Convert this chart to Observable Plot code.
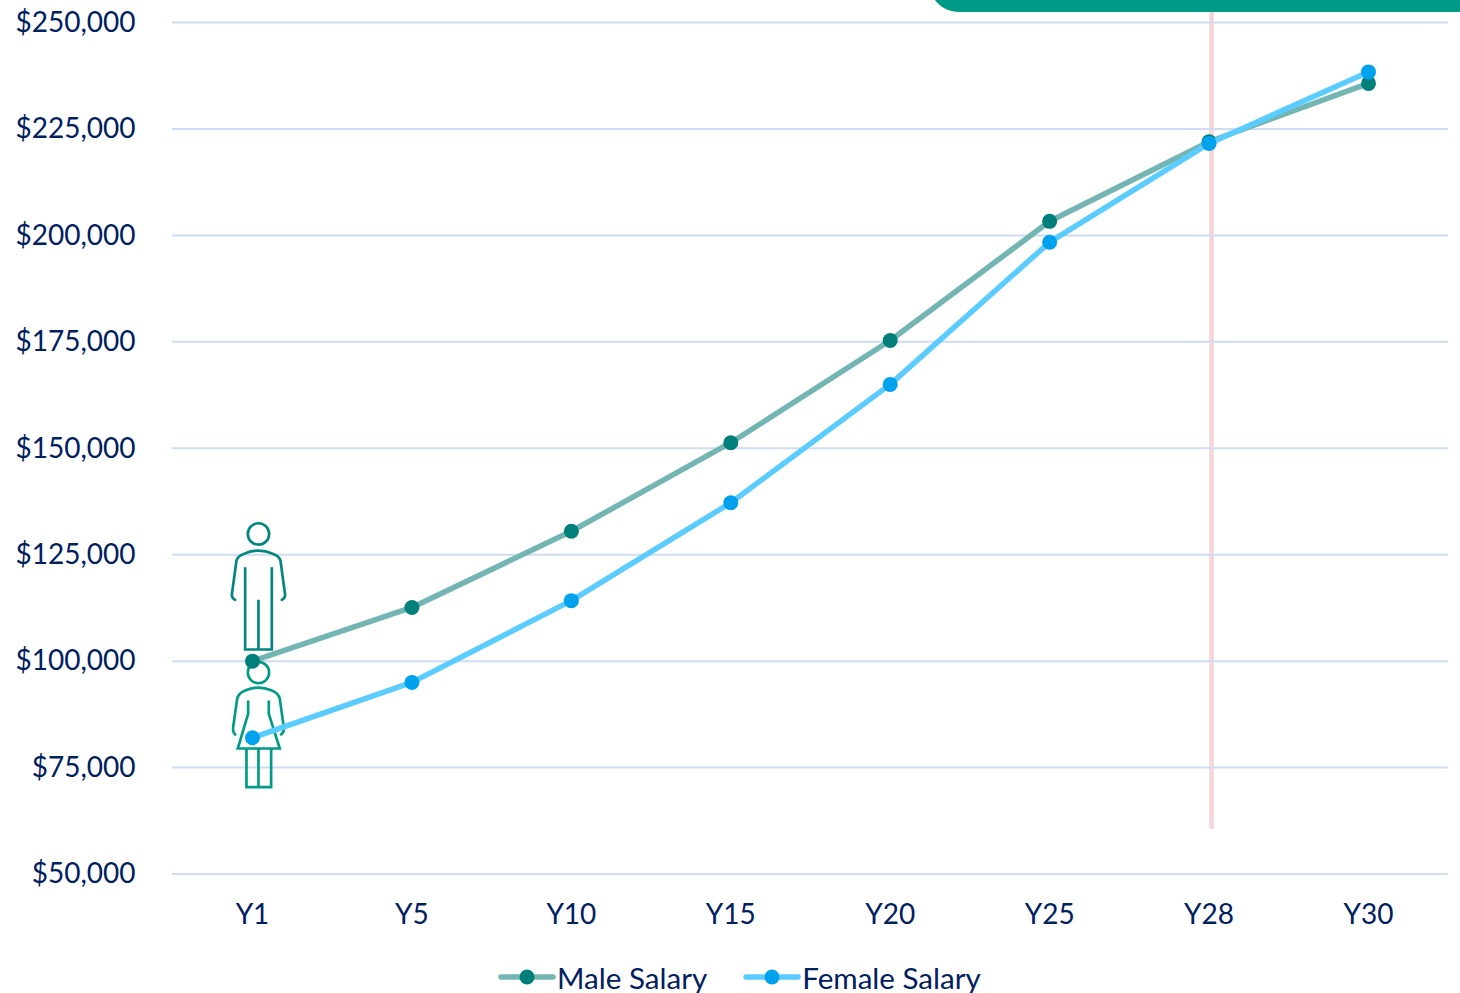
<!DOCTYPE html>
<html>
<head>
<meta charset="utf-8">
<script src="https://cdn.jsdelivr.net/npm/d3@7"></script>
<script src="https://cdn.jsdelivr.net/npm/@observablehq/plot@0.6"></script>
<style>
html,body{margin:0;padding:0;background:#fff;overflow:hidden}
#wrap{position:relative;width:1460px;height:993px;font-family:Lato,sans-serif}
#banner{position:absolute;left:930px;top:-30px;width:530px;height:42px;background:#009b86;border-bottom-left-radius:28px}
#chart{position:absolute;left:0;top:0}
#legend{position:absolute;left:498px;top:958px;height:38px;display:flex;align-items:center;font-size:29.6px;color:#002060;white-space:nowrap}
#legend svg{display:block}
.item{display:flex;align-items:center}
</style>
</head>
<body>
<div id="wrap"><div id="chart"></div><div id="banner"></div><div id="legend"></div></div>
<script>
const years = ["Y1","Y5","Y10","Y15","Y20","Y25","Y28","Y30"];
const maleSalary = [100000,112600,130500,151300,175300,203300,222000,235700];
const femaleSalary = [82000,95000,114200,137200,165000,198400,221600,238400];
const yTicks = [50000,75000,100000,125000,150000,175000,200000,225000,250000];
const seriesNames = ["Male Salary","Female Salary"];
const lineColors = ["#72b5b3","#5accff"];
const dotColors = ["#007f7b","#00a2ed"];

const rows = (vals) => years.map((year,i)=>({year,value:vals[i]}));
const male = rows(maleSalary), female = rows(femaleSalary);

const icon = (vb, color, body) => "data:image/svg+xml," + encodeURIComponent(
  `<svg xmlns="http://www.w3.org/2000/svg" viewBox="${vb}" width="190" height="400"><g fill="none" stroke="${color}" stroke-width="8" stroke-linecap="round">${body}</g></svg>`);
const maleIcon = icon("80 30 190 400","#00857f",
  `<circle cx="174" cy="70" r="32"/><path d="M104,268 Q94,264 94,252 L108,150 Q112,136 130,130 Q174,110 218,130 Q236,136 240,150 L254,252 Q254,264 244,268"/><path stroke-linecap="butt" d="M134,170 V417 H214 V170 M174,268 V417"/>`);
const femaleIcon = icon("80 450 190 400","#009b86",
  `<circle cx="174" cy="486" r="32"/><path d="M104,672 Q96,664 98,650 L110,565 Q114,548 134,540 Q174,522 214,540 Q234,548 238,565 L250,650 Q252,664 242,672"/><path stroke-linecap="butt" d="M143,570 V610 L112,714 H238 L205,610 V570"/><path stroke-linecap="butt" d="M138,714 V830 H212 V714 M174,714 V830"/>`);
const icons = [
  {year:"Y1",value:117360,src:maleIcon},
  {year:"Y1",value:84480,src:femaleIcon}
];

const chart = Plot.plot({
  width:1460,height:945,
  marginLeft:172,marginRight:12,marginTop:22,marginBottom:71.5,
  style:{fontFamily:"Lato, sans-serif",fontSize:"28px",color:"#002060",background:"transparent",overflow:"visible"},
  x:{type:"point",domain:years,range:[252,1368],padding:0,round:false,label:null},
  y:{domain:[50000,250000],range:[873.5,22],label:null},
  marks:[
    Plot.ruleX(["Y28"],{y1:60500,y2:253000,dx:2.5,stroke:"#f6d5d8",strokeWidth:4.5}),
    Plot.ruleY(yTicks,{stroke:"#d0dcf2",strokeWidth:2}),
    Plot.axisY({ticks:yTicks,tickSize:0,tickPadding:37,dy:0.3,tickFormat:d3.format("$,.0f"),label:null,fontSize:28,fill:"#002060"}),
    Plot.axisX({tickSize:0,tickPadding:30,label:null,fontSize:28,fill:"#002060"}),
    Plot.image(icons,{x:"year",y:"value",src:"src",width:63.3,height:133.3,dx:6.3}),
    Plot.line(male,{x:"year",y:"value",stroke:lineColors[0],strokeWidth:5.5,curve:"linear"}),
    Plot.dot(male,{x:"year",y:"value",r:7.5,fill:dotColors[0]}),
    Plot.line(female,{x:"year",y:"value",stroke:lineColors[1],strokeWidth:5.5,curve:"linear"}),
    Plot.dot(female,{x:"year",y:"value",r:7.5,fill:dotColors[1]})
  ]
});
document.getElementById("chart").append(chart);

const legend = d3.select("#legend");
seriesNames.forEach((name,i)=>{
  const item = legend.append("div").attr("class","item").style("margin-right",i===0?"36px":"0");
  const s = item.append("svg").attr("width",58).attr("height",20).style("margin-right","1px");
  s.append("line").attr("x1",3).attr("x2",55).attr("y1",10).attr("y2",10)
    .attr("stroke",lineColors[i]).attr("stroke-width",5.5).attr("stroke-linecap","round");
  s.append("circle").attr("cx",29).attr("cy",10).attr("r",7.5).attr("fill",dotColors[i]);
  item.append("span").text(name);
});
</script>
</body>
</html>
